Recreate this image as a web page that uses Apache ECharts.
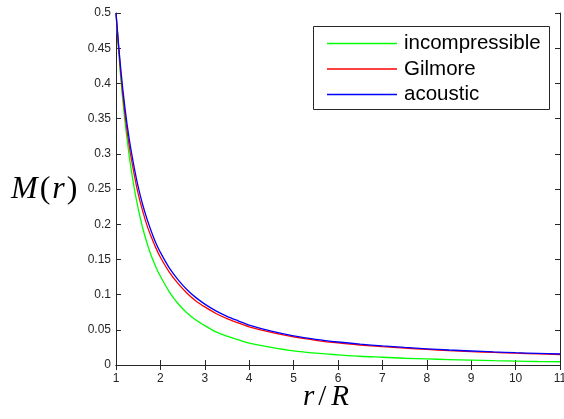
<!DOCTYPE html>
<html>
<head>
<meta charset="utf-8">
<script src="https://cdn.jsdelivr.net/npm/echarts@6/dist/echarts.min.js"></script>
<style>
html,body{margin:0;padding:0;background:#fff;}
#c{width:564px;height:419px;}
</style>
</head>
<body>
<div id="c"></div>
<script>
// Values
var seriesNames = ['incompressible', 'Gilmore', 'acoustic'];
var rValues = [1, 1.1, 1.2, 1.3, 1.4, 1.5, 1.6, 1.7, 1.8, 1.9, 2, 2.2, 2.4, 2.6, 2.8, 3, 3.25, 3.5, 3.75, 4, 4.5, 5, 5.5, 6, 6.5, 7, 7.5, 8, 8.5, 9, 9.5, 10, 10.5, 11];
var mIncompressible = [0.5, 0.413, 0.347, 0.296, 0.255, 0.222, 0.195, 0.173, 0.154, 0.139, 0.126, 0.104, 0.087, 0.074, 0.064, 0.056, 0.047, 0.041, 0.036, 0.031, 0.025, 0.020, 0.0168, 0.0145, 0.0124, 0.011, 0.0096, 0.0086, 0.0077, 0.0069, 0.0061, 0.0055, 0.005, 0.0046];
var mGilmore = [0.5, 0.419, 0.357, 0.310, 0.274, 0.243, 0.219, 0.198, 0.181, 0.166, 0.153, 0.132, 0.1155, 0.102, 0.091, 0.0825, 0.0732, 0.0659, 0.0598, 0.0542, 0.0462, 0.0398, 0.0351, 0.0313, 0.0284, 0.0260, 0.0239, 0.0221, 0.0205, 0.0191, 0.0179, 0.0168, 0.0158, 0.0149];
var mAcoustic = [0.5, 0.425, 0.366, 0.320, 0.284, 0.253, 0.228, 0.207, 0.189, 0.173, 0.160, 0.138, 0.121, 0.107, 0.0957, 0.0865, 0.0769, 0.0692, 0.0628, 0.0568, 0.0482, 0.0415, 0.0365, 0.0327, 0.0296, 0.0271, 0.0249, 0.023, 0.0213, 0.0199, 0.0186, 0.0175, 0.0165, 0.0156];
var xTicks = [1, 2, 3, 4, 5, 6, 7, 8, 9, 10, 11];
var yTicks = [0, 0.05, 0.1, 0.15, 0.2, 0.25, 0.3, 0.35, 0.4, 0.45, 0.5];

function pairs(xs, ys) { return xs.map(function (x, i) { return [x, ys[i]]; }); }

var axisColor = '#262626';
var chart = echarts.init(document.getElementById('c'), null, {renderer: 'canvas'});
var mkLine = function (name, ys, color) {
  return {
    name: name, type: 'line', data: pairs(rValues, ys), symbol: 'none',
    smooth: 0.3,
    lineStyle: {color: color, width: 1.3}, itemStyle: {color: color},
    xAxisIndex: 0, yAxisIndex: 0, animation: false
  };
};
var xMin = xTicks[0], xMax = xTicks[xTicks.length - 1];
var yMin = yTicks[0], yMax = yTicks[yTicks.length - 1];
var option = {
  animation: false,
  backgroundColor: '#fff',
  grid: {left: 116, right: 4, top: 13, bottom: 54, containLabel: false, outerBoundsMode: 'none'},
  xAxis: [{
    type: 'value', min: xMin, max: xMax, interval: 1,
    axisLine: {lineStyle: {color: axisColor, width: 1}},
    axisTick: {inside: true, length: 5, lineStyle: {color: axisColor}},
    axisLabel: {color: axisColor, fontSize: 12, fontFamily: 'Liberation Sans', margin: 8,
      alignMinLabel: 'center', alignMaxLabel: 'center', hideOverlap: false},
    splitLine: {show: false}
  }, {
    type: 'value', position: 'top', min: xMin, max: xMax, interval: 1,
    axisLine: {lineStyle: {color: axisColor, width: 1}},
    axisTick: {inside: true, length: 5, lineStyle: {color: axisColor}},
    axisLabel: {show: false}, splitLine: {show: false}
  }],
  yAxis: [{
    type: 'value', min: yMin, max: yMax, interval: 0.05,
    axisLine: {show: true, lineStyle: {color: axisColor, width: 1}},
    axisTick: {show: true, inside: true, length: 5, lineStyle: {color: axisColor}},
    axisLabel: {color: axisColor, fontSize: 12, fontFamily: 'Liberation Sans', margin: 5,
      formatter: function (v) { return String(parseFloat(v.toFixed(2))); }},
    splitLine: {show: false}
  }, {
    type: 'value', position: 'right', min: yMin, max: yMax, interval: 0.05,
    axisLine: {show: true, lineStyle: {color: axisColor, width: 1}},
    axisTick: {show: true, inside: true, length: 5, lineStyle: {color: axisColor}},
    axisLabel: {show: false}, splitLine: {show: false}
  }],
  legend: {
    orient: 'vertical', left: 313, top: 31, padding: [2, 8, 2, 14],
    itemWidth: 70, itemHeight: 1.5, itemGap: 4.5, icon: 'rect',
    textStyle: {fontSize: 20.5, fontFamily: 'Liberation Sans', color: '#000', padding: [0, 0, 0, 2]},
    data: seriesNames
  },
  graphic: [
    {type: 'rect', shape: {x: 313.5, y: 26.5, width: 236, height: 83}, style: {fill: 'none', stroke: axisColor, lineWidth: 1}, z: 10},
    {type: 'text', left: 11, top: 174, style: {
      text: '{i|M}{n|(}{i|r}{n|)}', rich: {
        i: {fontFamily: 'Liberation Serif', fontStyle: 'italic', fontSize: 32, fill: '#000'},
        n: {fontFamily: 'Liberation Serif', fontSize: 32, fill: '#000', padding: [0, 2, 0, 2]}
      }}},
    {type: 'text', left: 303, top: 383, style: {
      text: '{i|r}{n|/}{i|R}', rich: {
        i: {fontFamily: 'Liberation Serif', fontStyle: 'italic', fontSize: 29, fill: '#000'},
        n: {fontFamily: 'Liberation Serif', fontSize: 29, fill: '#000', padding: [0, 5, 0, 4]}
      }}}
  ],
  series: [
    mkLine(seriesNames[0], mIncompressible, '#00ff00'),
    mkLine(seriesNames[1], mGilmore, '#ff0000'),
    mkLine(seriesNames[2], mAcoustic, '#0000ff')
  ]
};
chart.setOption(option);
</script>
</body>
</html>
